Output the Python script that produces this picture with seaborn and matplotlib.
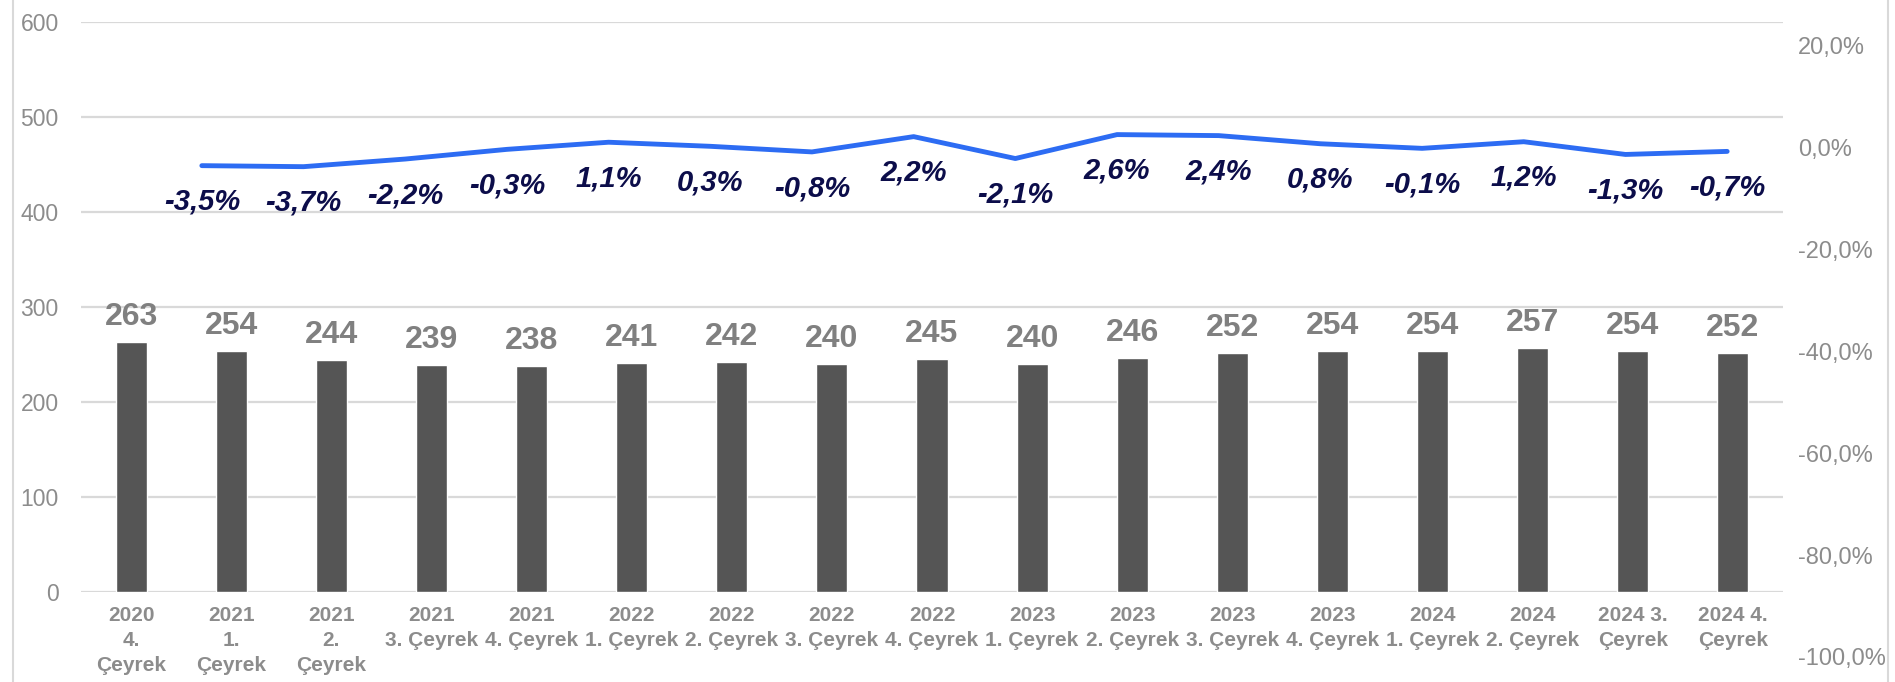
"""
Quarterly count (bars) with quarter-on-quarter change (line, right axis).
"""

import matplotlib
matplotlib.use("Agg")
import matplotlib.pyplot as plt
from matplotlib.lines import Line2D
from matplotlib.ticker import FuncFormatter, MultipleLocator
import numpy as np
import pandas as pd
import seaborn as sns

# Data
quarters = [
    "2020\n4.\nÇeyrek", "2021\n1.\nÇeyrek", "2021\n2.\nÇeyrek",
    "2021\n3. Çeyrek", "2021\n4. Çeyrek", "2022\n1. Çeyrek",
    "2022\n2. Çeyrek", "2022\n3. Çeyrek", "2022\n4. Çeyrek",
    "2023\n1. Çeyrek", "2023\n2. Çeyrek", "2023\n3. Çeyrek",
    "2023\n4. Çeyrek", "2024\n1. Çeyrek", "2024\n2. Çeyrek",
    "2024 3.\nÇeyrek", "2024 4.\nÇeyrek",
]
counts = [263, 254, 244, 239, 238, 241, 242, 240, 245, 240, 246, 252, 254, 254, 257, 254, 252]
# change in % (2021 Q1 onwards)
change_pct = [-3.5, -3.7, -2.2, -0.3, 1.1, 0.3, -0.8, 2.2, -2.1, 2.6, 2.4, 0.8, -0.1, 1.2, -1.3, -0.7]

BAR_COLOR = "#555555"
LINE_COLOR = "#2d6cf3"
LABEL_NAVY = "#0c0d4a"
VALUE_GREY = "#808080"
AXIS_GREY = "#8c8c8c"
GRID_GREY = "#d9d9d9"

W, H = 1895, 682


def fmt_tr(v: float, digits: int = 1) -> str:
    return f"{v:.{digits}f}".replace(".", ",")


def main() -> None:
    sns.set_theme(style="white")
    plt.rcParams["font.family"] = ["Liberation Sans", "DejaVu Sans"]

    fig = plt.figure(figsize=(W / 100, H / 100), dpi=100)
    ax = fig.add_axes([81 / W, (H - 592) / H, (1783 - 81) / W, (592 - 22) / H])

    df = pd.DataFrame({"quarter": quarters, "count": counts})
    sns.barplot(data=df, x="quarter", y="count", color=BAR_COLOR, width=0.31,
                saturation=1, ax=ax)
    ax.set_ylim(0, 600)
    ax.set_xlim(-0.5, len(quarters) - 0.5)
    ax.set_yticks(np.arange(0, 601, 100))
    ax.set_yticklabels([str(t) for t in range(0, 601, 100)], fontsize=16.5, color=AXIS_GREY)
    ax.yaxis.grid(True, color=GRID_GREY, lw=1.6)
    ax.set_axisbelow(True)
    for s in ax.spines.values():
        s.set_visible(False)
    ax.set_xlabel("")
    ax.set_ylabel("")
    ax.tick_params(axis="y", length=0, pad=16)
    ax.tick_params(axis="x", length=0, pad=10)
    for lbl in ax.get_xticklabels():
        lbl.set_fontsize(15)
        lbl.set_fontweight("bold")
        lbl.set_color(AXIS_GREY)
        lbl.set_linespacing(1.42)

    # bar value labels
    for i, v in enumerate(counts):
        ax.annotate(str(v), (i, v), xytext=(0, 18), textcoords="offset points",
                    ha="center", va="center", fontsize=23, fontweight="bold",
                    color=VALUE_GREY)

    # secondary axes: own category scale (16 points) and own, taller extent
    ax2 = fig.add_axes([151 / W, (H - 657) / H, (1778 - 151) / W, (657 - 46) / H])
    ax2.patch.set_alpha(0)
    pos = np.arange(len(change_pct))
    line_df = pd.DataFrame({"pos": pos, "change": change_pct})
    sns.lineplot(data=line_df, x="pos", y="change", color=LINE_COLOR, lw=3.5,
                 solid_capstyle="round", ax=ax2)
    ax2.set_xlim(-0.5, len(change_pct) - 0.5)
    ax2.set_ylim(-100, 20)
    ax2.yaxis.set_major_locator(MultipleLocator(20))
    ax2.yaxis.tick_right()
    ax2.yaxis.set_major_formatter(FuncFormatter(lambda v, _: fmt_tr(v) + "%"))
    ax2.tick_params(axis="y", length=0, pad=14.5, labelsize=17, labelcolor=AXIS_GREY)
    ax2.set_xticks([])
    ax2.set_xlabel("")
    ax2.set_ylabel("")
    for s in ax2.spines.values():
        s.set_visible(False)

    for x, v in zip(pos, change_pct):
        ax2.annotate(fmt_tr(v) + "%", (x, v), xytext=(0, -26), textcoords="offset points",
                     ha="center", va="center", fontsize=21, fontweight="bold",
                     fontstyle="italic", color=LABEL_NAVY)

    # thin chart frame on the sides
    for xf in (12.5 / W, 1888 / W):
        fig.add_artist(Line2D([xf, xf], [0, 1], transform=fig.transFigure,
                              color=GRID_GREY, lw=1.5))

    fig.savefig("out.png", dpi=100, facecolor="white")
    plt.close(fig)


if __name__ == "__main__":
    main()
